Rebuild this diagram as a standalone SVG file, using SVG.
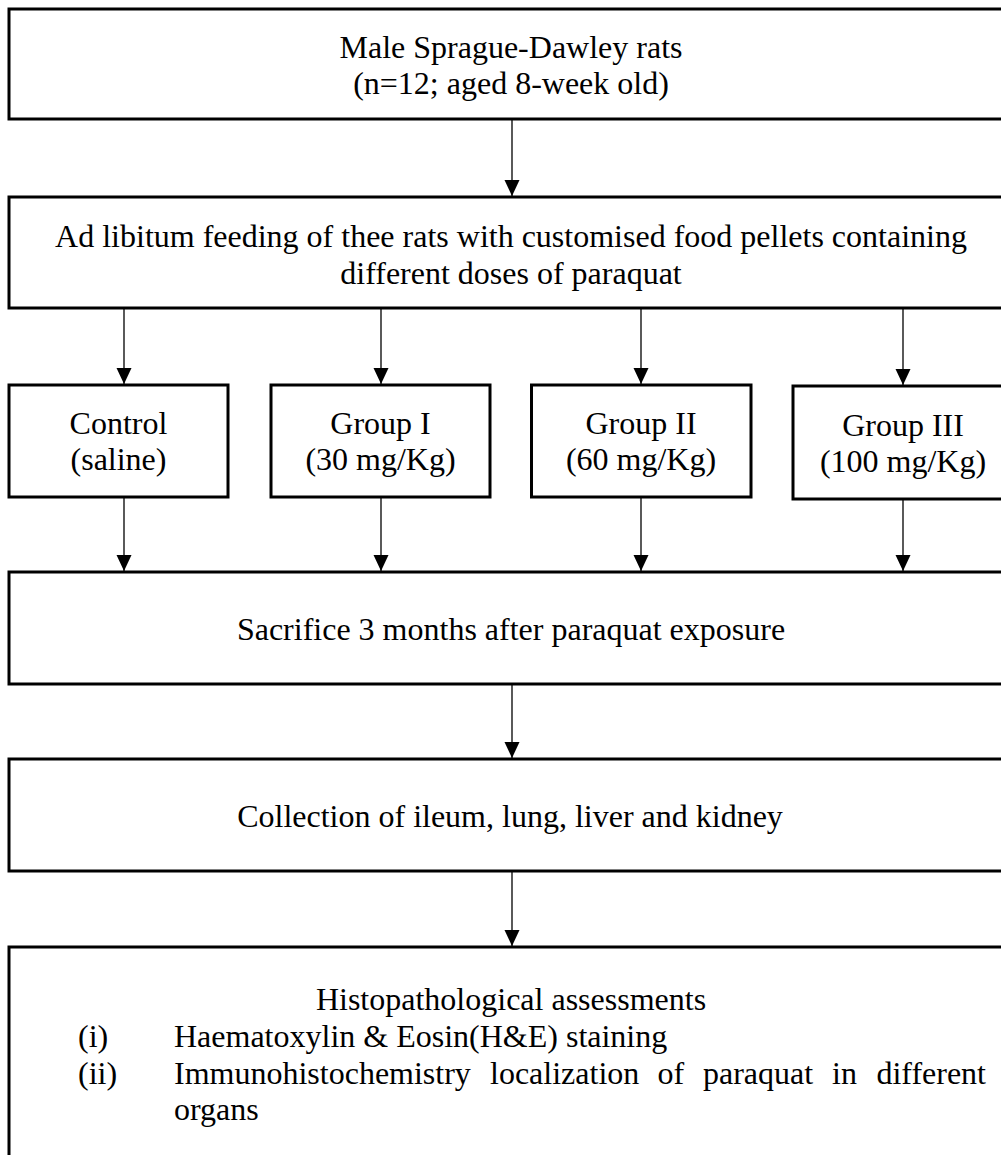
<svg xmlns="http://www.w3.org/2000/svg" width="1001" height="1155" viewBox="0 0 1001 1155">
<style>
.box{fill:#fff;stroke:#000;stroke-width:3}
.t{font-family:"Liberation Serif","Times New Roman",serif;font-size:32px;fill:#000}
.c{text-anchor:middle}
.e{text-anchor:end}
.ln{stroke:#000;stroke-width:1.3;fill:none;marker-end:url(#ah)}
</style>
<defs>
<marker id="ah" markerUnits="userSpaceOnUse" markerWidth="16" markerHeight="16" refX="16" refY="7.5" orient="auto">
<path d="M0,0 L16,7.5 L0,15 Z" fill="#000"/>
</marker>
</defs>
<rect width="1001" height="1155" fill="#fff"/>
<g id="connectors">
<line class="ln" x1="512" y1="120" x2="512" y2="196"/>
<line class="ln" x1="124" y1="309" x2="124" y2="384"/>
<line class="ln" x1="381" y1="309" x2="381" y2="384"/>
<line class="ln" x1="641" y1="309" x2="641" y2="384"/>
<line class="ln" x1="903" y1="309" x2="903" y2="385"/>
<line class="ln" x1="124" y1="498" x2="124" y2="571"/>
<line class="ln" x1="381" y1="498" x2="381" y2="571"/>
<line class="ln" x1="641" y1="498" x2="641" y2="571"/>
<line class="ln" x1="903" y1="500" x2="903" y2="571"/>
<line class="ln" x1="512" y1="685" x2="512" y2="758"/>
<line class="ln" x1="512" y1="872" x2="512" y2="946"/>
</g>
<g id="n-rats">
<rect class="box" x="9" y="9" width="1004" height="110"/>
<text class="t c" x="511" y="58">Male Sprague-Dawley rats</text>
<text class="t c" x="511" y="94">(n=12; aged 8-week old)</text>
</g>
<g id="n-feeding">
<rect class="box" x="9" y="197" width="1004" height="111"/>
<text class="t c" x="511" y="247">Ad libitum feeding of thee rats with customised food pellets containing</text>
<text class="t c" x="511" y="284">different doses of paraquat</text>
</g>
<g id="n-control">
<rect class="box" x="9" y="385" width="219" height="112"/>
<text class="t c" x="118.5" y="434">Control</text>
<text class="t c" x="118.5" y="470">(saline)</text>
</g>
<g id="n-group1">
<rect class="box" x="271" y="385" width="219" height="112"/>
<text class="t c" x="380.5" y="434">Group I</text>
<text class="t c" x="380.5" y="470">(30 mg/Kg)</text>
</g>
<g id="n-group2">
<rect class="box" x="531.5" y="385" width="219.5" height="112"/>
<text class="t c" x="641" y="434">Group II</text>
<text class="t c" x="641" y="470">(60 mg/Kg)</text>
</g>
<g id="n-group3">
<rect class="box" x="793" y="386" width="220" height="113"/>
<text class="t c" x="903" y="436">Group III</text>
<text class="t c" x="903" y="472">(100 mg/Kg)</text>
</g>
<g id="n-sacrifice">
<rect class="box" x="9" y="572" width="1004" height="112"/>
<text class="t c" x="511" y="640">Sacrifice 3 months after paraquat exposure</text>
</g>
<g id="n-collection">
<rect class="box" x="9" y="759" width="1004" height="112"/>
<text class="t c" x="510" y="827">Collection of ileum, lung, liver and kidney</text>
</g>
<g id="n-histo">
<rect class="box" x="9" y="947" width="1004" height="230"/>
<text class="t c" x="511" y="1010">Histopathological assessments</text>
<text class="t" x="78" y="1047">(i)</text>
<text class="t" x="174" y="1047">Haematoxylin &amp; Eosin(H&amp;E) staining</text>
<text class="t" x="78" y="1084">(ii)</text>
<text class="t" x="174" y="1084">Immunohistochemistry</text>
<text class="t" x="490" y="1084">localization</text>
<text class="t" x="657.5" y="1084">of</text>
<text class="t" x="703" y="1084">paraquat</text>
<text class="t" x="832" y="1084">in</text>
<text class="t e" x="986" y="1084">different</text>
<text class="t" x="174" y="1120">organs</text>
</g>
</svg>
